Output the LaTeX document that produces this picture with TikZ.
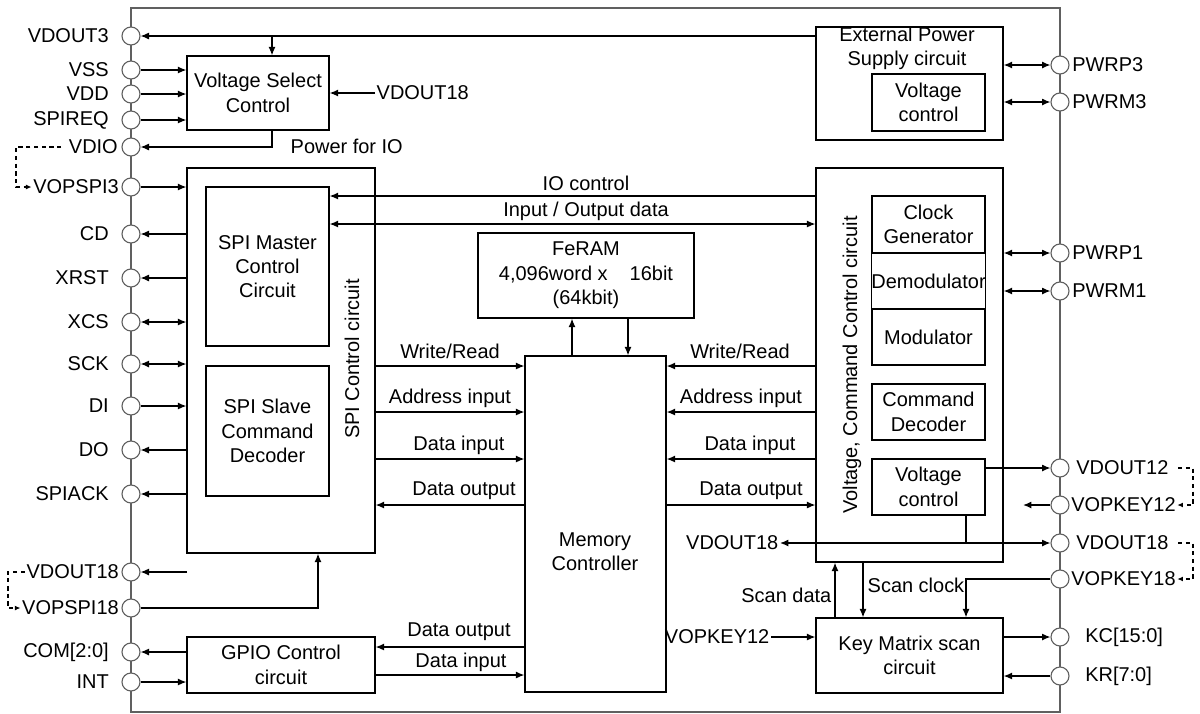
\documentclass[tikz,border=0pt]{standalone}
\usepackage{fontspec}
\setmainfont{Liberation Sans}
\usetikzlibrary{arrows.meta, calc, positioning}
\newcommand{\pxu}{0.025cm}
\definecolor{framegray}{RGB}{96,96,96}
\tikzset{
  blk/.style 2 args={draw, line width=0.9pt, align=center, inner sep=0pt,
    minimum width=#1*\pxu, minimum height=#2*\pxu},
  pad/.style={circle, draw=framegray, fill=white, line width=0.8pt,
    minimum size=18*\pxu, inner sep=0pt},
  txt/.style={inner sep=1pt, align=center},
  sig/.style={line width=0.9pt, -{Latex[length=6pt,width=5pt]}},
  bsig/.style={line width=0.9pt, {Latex[length=6pt,width=5pt]}-{Latex[length=6pt,width=5pt]}},
  dsig/.style={line width=0.8pt, dash pattern=on 3pt off 2.5pt, -{Latex[length=4pt,width=3.5pt]}},
}
\begin{document}
\begin{tikzpicture}[x=0.025cm, y=-0.025cm, font=\fontsize{14.2}{17.3}\selectfont]
  \useasboundingbox (0,0) rectangle (1200,713);
  % chip outline
  \draw[framegray, line width=1pt] (131,8) rectangle (1060,712);

  % pads, left side
  \foreach \nm/\yy/\txt/\gap in {vdout3/36/VDOUT3/11, vss/70/VSS/11, vdd/94/VDD/11,
      spireq/120/SPIREQ/11, vdio/147/VDIO/2, vopspi3/187/VOPSPI3/1, cd/234/CD/11,
      xrst/278/XRST/11, xcs/322/XCS/11, sck/364/SCK/11, di/406/DI/11, do/450/DO/11,
      spiack/494/SPIACK/11, vdout18l/572/VDOUT18/1, vopspi18/608/VOPSPI18/1,
      com/652/COM[2:0]/11, int/682/INT/11} {
    \node[pad] (p\nm) at (131,\yy) {};
    \node[txt, anchor=east] (l\nm) at ([xshift=-\gap*\pxu]p\nm.west) {\txt};
  }
  % pads, right side
  \foreach \nm/\yy/\txt/\gap in {pwrp3/65/PWRP3/1, pwrm3/102/PWRM3/1, pwrp1/253/PWRP1/1,
      pwrm1/291/PWRM1/1, vdout12/468/VDOUT12/5, vopkey12/505/VOPKEY12/0,
      vdout18r/543/VDOUT18/5, vopkey18/579/VOPKEY18/0, kc/637/KC[15:0]/14,
      kr/676/KR[7:0]/14} {
    \node[pad] (p\nm) at (1060,\yy) {};
    \node[txt, anchor=west] (l\nm) at ([xshift=\gap*\pxu]p\nm.east) {\txt};
  }

  % blocks
  \node[blk={142}{74}] (vsel) at (258,93) {Voltage Select\\Control};
  \node[blk={188}{385}] (spi) at (281,360.5) {};
  \node[blk={123}{159}] (spim) at (267.5,266.5) {SPI Master\\Control\\Circuit};
  \node[blk={123}{130}] (spis) at (267.5,431) {SPI Slave\\Command\\Decoder};
  \node[txt, rotate=90] (spitxt) at (352,359) {SPI Control circuit};
  \node[blk={188}{56}] (gpio) at (281,665) {GPIO Control\\circuit};
  \node[blk={216}{85}] (feram) at (586,275.5) {FeRAM\\4,096word x\hspace{1.1em}16bit\\(64kbit)};
  \node[blk={141}{336}] (mem) at (595.5,524) {};
  \node[txt] (memtxt) at (595,552) {Memory\\Controller};
  \node[blk={187}{113}] (ext) at (909.5,83.5) {};
  \node[txt] (exttxt) at (907,48) {External Power\\Supply circuit};
  \node[blk={113}{57}] (evctl) at (928.5,102.5) {Voltage\\control};
  \node[blk={187}{394}] (vcc) at (909.5,365) {};
  \node[txt, rotate=90] (vcctxt) at (852,365) {Voltage, Command Control circuit};
  \node[blk={113}{57}] (clk) at (928.5,224.5) {Clock\\Generator};
  \node[blk={113}{56}] (demod) at (928.5,281) {Demodulator};
  \node[blk={113}{56}] (mod) at (928.5,337) {Modulator};
  \node[blk={113}{56}] (cmd) at (928.5,412) {Command\\Decoder};
  \node[blk={113}{56}] (vctl) at (928.5,487) {Voltage\\control};
  \node[blk={187}{75}] (key) at (909.5,655.5) {Key Matrix scan\\circuit};

  % free labels
  \node[txt, anchor=west] (lvd18t) at (375,93) {VDOUT18};
  \node[txt, anchor=west] (lpio) at (289,146) {Power for IO};
  \node[txt] (tio) at (586,183) {IO control};
  \node[txt] (tiod) at (586,211) {Input / Output data};
  \node[txt] (twrl) at (450,351) {Write/Read};
  \node[txt] (tadl) at (450,398) {Address input};
  \node[txt] (tdil) at (459,445) {Data input};
  \node[txt] (tdol) at (464,491) {Data output};
  \node[txt] (twrr) at (740,351) {Write/Read};
  \node[txt] (tadr) at (741,398) {Address input};
  \node[txt] (tdir) at (750,445) {Data input};
  \node[txt] (tdor) at (751,491) {Data output};
  \node[txt] (tgo) at (459,632) {Data output};
  \node[txt] (tgi) at (461,662) {Data input};
  \node[txt, anchor=east] (tsd) at (833,595) {Scan data};
  \node[txt, anchor=west] (tsc) at (866,585) {Scan clock};
  \node[txt, anchor=east] (lvd18m) at (780,543) {VDOUT18};
  \node[txt, anchor=east] (lvk12m) at (771,637) {VOPKEY12};

  % helper points
  \coordinate (jv3) at (272,36);
  \coordinate (js18) at (318,608);
  \coordinate (v18l) at (187,572);
  \coordinate (rio) at (0,196);
  \coordinate (riod) at (0,224);
  \coordinate (rwr) at (0,366);
  \coordinate (rad) at (0,412);
  \coordinate (rdi) at (0,459);
  \coordinate (rdo) at (0,505);
  \coordinate (rgo) at (0,647);
  \coordinate (rgi) at (0,675);
  \coordinate (fup) at (572,336);
  \coordinate (fdn) at (628,336);
  \coordinate (j18) at (966,543);
  \coordinate (vk12r) at (1023,505);
  \coordinate (sd) at (835,590);
  \coordinate (sc) at (863,590);
  \coordinate (dl1) at (16,167);
  \coordinate (dl2) at (8,590);
  \coordinate (dr1) at (1193,487);
  \coordinate (dr2) at (1193,561);

  % voltage select
  \draw[sig] (ext.west |- pvdout3) -- (pvdout3);
  \draw[sig] (jv3) -- (jv3 |- vsel.north);
  \draw[sig] (pvss) -- (vsel.west |- pvss);
  \draw[sig] (pvdd) -- (vsel.west |- pvdd);
  \draw[sig] (pspireq) -- (vsel.west |- pspireq);
  \draw[sig] (lvd18t.west) -- (vsel.east |- lvd18t.west);
  \draw[sig] (jv3 |- vsel.south) |- (pvdio);

  % SPI pins
  \draw[sig] (pvopspi3) -- (spi.west |- pvopspi3);
  \draw[sig] (spi.west |- pcd) -- (pcd);
  \draw[sig] (spi.west |- pxrst) -- (pxrst);
  \draw[bsig] (pxcs) -- (spi.west |- pxcs);
  \draw[bsig] (psck) -- (spi.west |- psck);
  \draw[sig] (pdi) -- (spi.west |- pdi);
  \draw[sig] (spi.west |- pdo) -- (pdo);
  \draw[sig] (spi.west |- pspiack) -- (pspiack);
  \draw[sig] (v18l) -- (pvdout18l);
  \draw[sig] (pvopspi18) -| (js18 |- spi.south);

  % GPIO
  \draw[sig] (gpio.west |- pcom) -- (pcom);
  \draw[sig] (pint) -- (gpio.west |- pint);
  \draw[sig] (mem.west |- rgo) -- (gpio.east |- rgo);
  \draw[sig] (gpio.east |- rgi) -- (mem.west |- rgi);

  % buses between SPI, memory and command block
  \draw[sig] (vcc.west |- rio) -- (spim.east |- rio);
  \draw[bsig] (spim.east |- riod) -- (vcc.west |- riod);
  \draw[sig] (spi.east |- rwr) -- (mem.west |- rwr);
  \draw[sig] (spi.east |- rad) -- (mem.west |- rad);
  \draw[sig] (spi.east |- rdi) -- (mem.west |- rdi);
  \draw[sig] (mem.west |- rdo) -- (spi.east |- rdo);
  \draw[sig] (vcc.west |- rwr) -- (mem.east |- rwr);
  \draw[sig] (vcc.west |- rad) -- (mem.east |- rad);
  \draw[sig] (vcc.west |- rdi) -- (mem.east |- rdi);
  \draw[sig] (mem.east |- rdo) -- (vcc.west |- rdo);
  \draw[sig] (fup |- mem.north) -- (fup |- feram.south);
  \draw[sig] (fdn |- feram.south) -- (fdn |- mem.north);

  % right side pins
  \draw[bsig] (ext.east |- ppwrp3) -- (ppwrp3);
  \draw[bsig] (ext.east |- ppwrm3) -- (ppwrm3);
  \draw[bsig] (vcc.east |- ppwrp1) -- (ppwrp1);
  \draw[bsig] (vcc.east |- ppwrm1) -- (ppwrm1);
  \draw[sig] (vctl.east |- pvdout12) -- (pvdout12);
  \draw[sig] (pvopkey12) -- (vk12r);
  \draw[bsig] (lvd18m.east) -- (pvdout18r);
  \draw[line width=0.9pt] (j18 |- vctl.south) -- (j18);
  \draw[sig] (pvopkey18) -| (j18 |- key.north);
  \draw[sig] (sd |- key.north) -- (sd |- vcc.south);
  \draw[sig] (sc |- vcc.south) -- (sc |- key.north);
  \draw[sig] (lvk12m.east) -- (key.west |- lvk12m.east);
  \draw[sig] (key.east |- pkc) -- (pkc);
  \draw[sig] (pkr) -- (key.east |- pkr);

  % external links
  \draw[dsig] ([xshift=-6*\pxu]lvdio.west) -| (dl1) |- (lvopspi3.west);
  \draw[dsig] (lvdout18l.west) -| (dl2) |- (lvopspi18.west);
  \draw[dsig] ([xshift=8*\pxu]lvdout12.east) -| (dr1) |- (lvopkey12.east);
  \draw[dsig] ([xshift=8*\pxu]lvdout18r.east) -| (dr2) |- (lvopkey18.east);
\end{tikzpicture}
\end{document}
